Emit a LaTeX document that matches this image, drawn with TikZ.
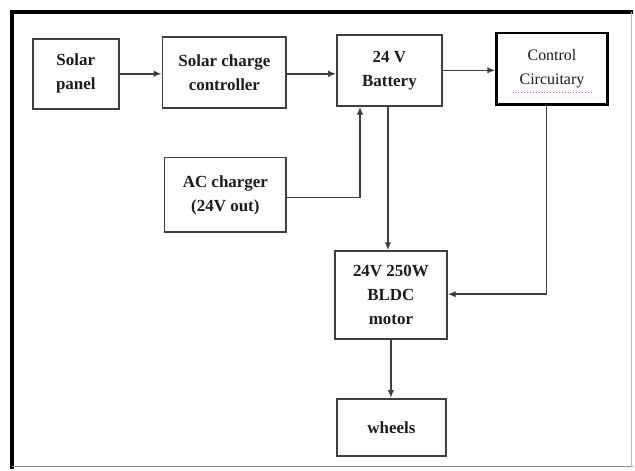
\documentclass[tikz,border=0pt]{standalone}
\usepackage{fontspec}
\setmainfont{Liberation Serif}
\usepackage{xcolor}
\usetikzlibrary{positioning,arrows.meta,calc}
\definecolor{ink}{HTML}{1C1C1C}
\definecolor{edge}{HTML}{3E3E3E}
\definecolor{rim}{HTML}{8A8A8A}
\definecolor{squig}{HTML}{D05050}
\begin{document}
\begin{tikzpicture}[x=1pt,y=-1pt,
  every node/.style={font=\fontsize{17}{24}\selectfont\bfseries,text=ink,align=center},
  blk/.style={draw=edge,line width=1.8pt,inner sep=0pt},
  arr/.style={-{Latex[length=8pt,width=6.5pt]},line width=1.6pt,draw=edge}]
  \fill[white] (0,0) rectangle (635,470);
  % frame
  \draw[line width=3.5pt,black] (635,12) -- (12,12) -- (12,470);
  \draw[line width=1.5pt,rim] (12,468) -- (635,468);
  \draw[line width=1pt,rim!60] (633,12) -- (633,468);
  % blocks
  \node[blk,minimum width=86pt,minimum height=70pt] (sp) at (76,74) {Solar\\panel};
  \node[blk,minimum width=124pt,minimum height=71pt] (scc) at (225,72.5) {Solar charge\\controller};
  \node[blk,minimum width=105pt,minimum height=71pt] (bat) at (390.5,70.5) {24 V\\Battery};
  \node[blk,draw=black,line width=2.6pt,minimum width=111pt,minimum height=72pt,font=\fontsize{16}{24}\selectfont] (ctrl) at (553.5,69) {Control\\Circuitary};
  \node[blk,minimum width=122pt,minimum height=75pt] (ac) at (226,195.5) {AC charger\\(24V out)};
  \node[blk,minimum width=112pt,minimum height=88pt] (mot) at (392,296) {24V 250W\\BLDC\\motor};
  \node[blk,minimum width=109pt,minimum height=57pt] (whl) at (392.5,428.5) {wheels};
  \draw[squig,line width=0.9pt,dotted] (514,93) -- (593,93);
  % connectors
  \draw[arr] (sp.east) -- (sp.east -| scc.west);
  \draw[arr] ([yshift=-1.5pt]scc.east) -- ([yshift=-1.5pt]scc.east -| bat.west);
  \draw[arr] (bat.east) -- (bat.east -| ctrl.west);
  \draw[arr] ([yshift=-2.5pt]ac.east) -| ([xshift=-29.5pt]bat.south);
  \draw[arr] ([xshift=-1.5pt]bat.south) -- ([xshift=-1.5pt]bat.south |- mot.north);
  \draw[arr] ([xshift=-5.5pt]ctrl.south) |- ([yshift=1pt]mot.east);
  \draw[arr] (mot.south) -- (mot.south |- whl.north);
\end{tikzpicture}
\end{document}
